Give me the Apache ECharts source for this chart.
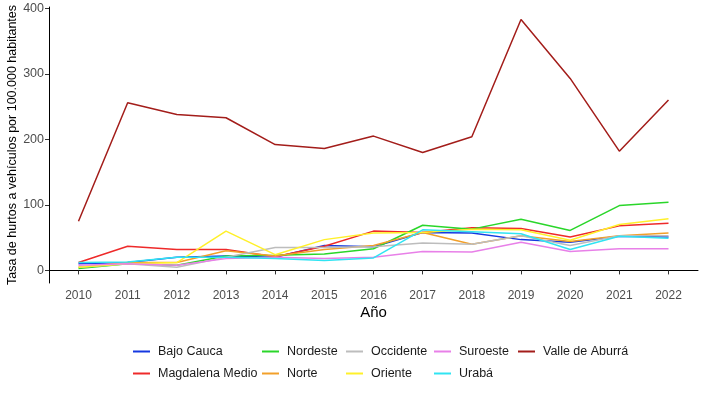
<!DOCTYPE html>
<html>
<head>
<meta charset="utf-8">
<script src="https://cdn.jsdelivr.net/npm/echarts@6/dist/echarts.min.js"></script>
<style>html,body{margin:0;padding:0;background:#fff}#c{width:706px;height:397px}</style>
</head>
<body>
<div id="c"></div>
<script>
var years = [2010, 2011, 2012, 2013, 2014, 2015, 2016, 2017, 2018, 2019, 2020, 2021, 2022];
var yTicks = [0, 100, 200, 300, 400];
var bajoCauca      = [10, 12, 20, 22, 20, 38, 36, 58, 57, 47, 43, 52, 51];
var magdalenaMedio = [12, 37, 32, 32, 21, 37, 60, 58, 65, 64, 51, 68, 72];
var nordeste       = [3, 10, 8, 22, 23, 25, 33, 69, 63, 78, 61, 99, 104];
var norte          = [5, 12, 12, 30, 22, 32, 38, 58, 40, 53, 44, 53, 57];
var occidente      = [5, 10, 5, 20, 35, 35, 36, 42, 40, 53, 38, 53, 53];
var oriente        = [5, 10, 12, 60, 24, 47, 57, 58, 63, 62, 46, 70, 79];
var suroeste       = [8, 10, 8, 18, 20, 18, 20, 29, 28, 43, 29, 33, 33];
var uraba          = [12, 13, 20, 20, 18, 15, 19, 62, 59, 56, 32, 52, 49];
var valleAburra    = [75, 256, 238, 233, 192, 186, 205, 180, 204, 383, 293, 182, 260];

var seriesNames = ['Bajo Cauca','Magdalena Medio','Nordeste','Norte','Occidente','Oriente','Suroeste','Urabá','Valle de Aburrá'];
var seriesData = [bajoCauca, magdalenaMedio, nordeste, norte, occidente, oriente, suroeste, uraba, valleAburra];
var colors = ['#1538e0','#ee2a2a','#2ad62a','#f2a02a','#bdbdbd','#fff02a','#e880e8','#30e4f2','#a31d1a'];

var chart = echarts.init(document.getElementById('c'), null, {renderer: 'canvas'});
var font = '"Liberation Sans", Arial, sans-serif';

var series = seriesNames.map(function(n, i){
  return {
    name: n, type: 'line', showSymbol: false, symbol: 'none',
    data: years.map(function(y, k){ return [y, seriesData[i][k]]; }),
    lineStyle: {width: 1.5, color: colors[i]},
    itemStyle: {color: colors[i]},
    z: 2 + i
  };
});

var legendCols = [
  {left: 133, items: ['Bajo Cauca','Magdalena Medio']},
  {left: 262, items: ['Nordeste','Norte']},
  {left: 346, items: ['Occidente','Oriente']},
  {left: 434, items: ['Suroeste','Urabá']},
  {left: 518, items: ['Valle de Aburrá']}
];
var legends = legendCols.map(function(c){
  return {
    orient: 'vertical', left: c.left, top: 345,
    data: c.items, itemWidth: 17, itemHeight: 2, itemGap: 9,
    icon: 'rect',
    textStyle: {fontFamily: font, fontSize: 12.5, color: '#1a1a1a', padding: [0,0,0,3]},
    padding: 0, selectedMode: false
  };
});

chart.setOption({
  animation: false,
  backgroundColor: '#fff',
  color: colors,
  grid: {left: 49, right: 8, top: 7, bottom: 114, containLabel: false, outerBoundsMode: 'none'},
  legend: legends,
  xAxis: {
    type: 'value', min: 2009.4, max: 2022.6,
    name: 'Año', nameLocation: 'middle', nameGap: 22, nameMoveOverlap: false,
    nameTextStyle: {fontFamily: font, fontSize: 15, color: '#000'},
    axisLine: {show: true, lineStyle: {color: '#000', width: 1}},
    axisTick: {show: true, length: 4, lineStyle: {color: '#333'}, customValues: years},
    axisLabel: {customValues: years, fontFamily: font, fontSize: 12, color: '#4d4d4d', margin: 7,
      formatter: function(v){ return String(v); }},
    splitLine: {show: false}
  },
  yAxis: {
    type: 'value', min: -19.2, max: 402,
    name: 'Tasa de hurtos a vehículos por 100.000 habitantes', nameLocation: 'middle', nameGap: 30, nameMoveOverlap: false,
    nameTextStyle: {fontFamily: font, fontSize: 12.5, color: '#000'},
    axisLine: {show: true, lineStyle: {color: '#000', width: 1}},
    axisTick: {show: true, length: 4, lineStyle: {color: '#333'}, customValues: yTicks},
    axisLabel: {customValues: yTicks, fontFamily: font, fontSize: 12.5, color: '#4d4d4d', margin: 5},
    splitLine: {show: false}
  },
  series: series
});
</script>
</body>
</html>
